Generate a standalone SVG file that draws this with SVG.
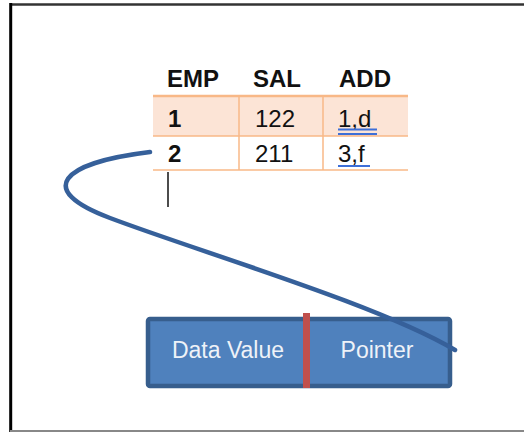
<svg xmlns="http://www.w3.org/2000/svg" width="524" height="432" viewBox="0 0 524 432">
<style>
.t{font-family:"Liberation Sans",Arial,sans-serif;font-size:24px;fill:#111}
.h{font-weight:bold}
.ol{stroke:#F8B887;fill:none}
.ul{stroke:#3D6FD8;stroke-width:2}
.bx{font-family:"Liberation Sans",Arial,sans-serif;font-size:23px;fill:#EEF2F8;text-anchor:middle}
</style>
<rect width="524" height="432" fill="#fff"/>
<g id="frame">
<line x1="10" y1="4.5" x2="524" y2="4.5" stroke="#333" stroke-width="2.5"/>
<line x1="10.7" y1="3" x2="10.7" y2="432" stroke="#000" stroke-width="3"/>
<line x1="10" y1="431" x2="524" y2="431" stroke="#888" stroke-width="2"/>
</g>
<g id="table">
<rect x="153" y="96" width="255" height="40" fill="#FCE4D6"/>
<line class="ol" x1="153" y1="96" x2="408" y2="96" stroke-width="2.5"/>
<line class="ol" x1="153" y1="136" x2="408" y2="136" stroke-width="1.5"/>
<line class="ol" x1="153" y1="170" x2="408" y2="170" stroke-width="1.5"/>
<line class="ol" x1="239" y1="96" x2="239" y2="170" stroke-width="1.5"/>
<line class="ol" x1="323" y1="96" x2="323" y2="170" stroke-width="1.5"/>
<text class="t h" x="167" y="87">EMP</text>
<text class="t h" x="253" y="87">SAL</text>
<text class="t h" x="339" y="87">ADD</text>
<text class="t h" x="168" y="127">1</text>
<text class="t" x="255" y="127">122</text>
<text class="t" x="338" y="127">1,d</text>
<line class="ul" x1="338" y1="129.5" x2="377" y2="129.5"/>
<line class="ul" x1="338" y1="134" x2="377" y2="134"/>
<text class="t h" x="168" y="162">2</text>
<text class="t" x="255" y="162">211</text>
<text class="t" x="338" y="162">3,f</text>
<line class="ul" x1="338" y1="166" x2="370" y2="166"/>
<line x1="168" y1="172" x2="168" y2="207" stroke="#111" stroke-width="1.5"/>
</g>
<g id="node">
<rect x="148" y="319" width="302" height="67" rx="2" fill="#4F81BD" stroke="#375E8D" stroke-width="4.5"/>
<rect x="303" y="313" width="7" height="75" fill="#C0504D"/>
<text class="bx" x="228" y="358">Data Value</text>
<text class="bx" x="377" y="358">Pointer</text>
</g>
<g id="connectors">
<path d="M150,152 C60,163 35,190 110,218 C200,252 380,305 455,350" fill="none" stroke="#36609A" stroke-width="4.5" stroke-linecap="round"/>
</g>
</svg>
